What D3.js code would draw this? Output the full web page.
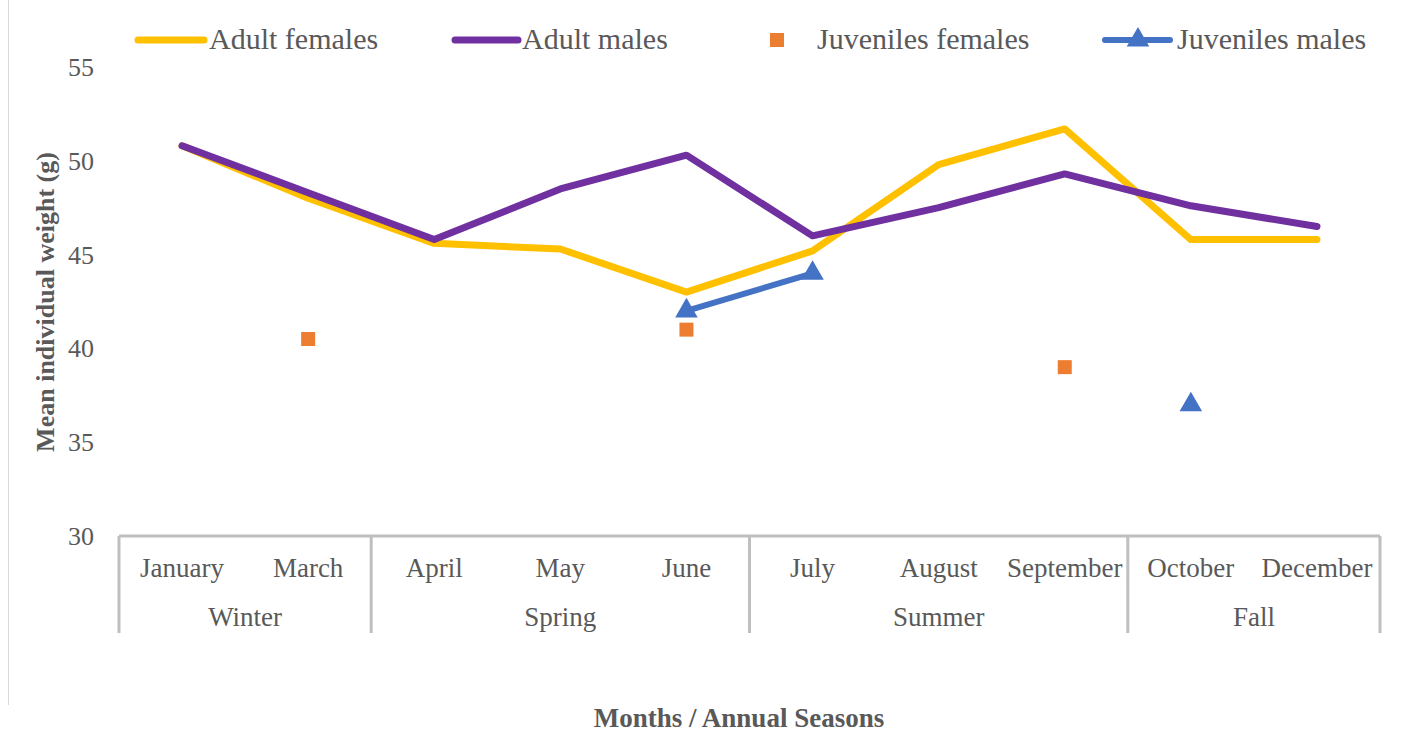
<!DOCTYPE html>
<html><head><meta charset="utf-8">
<script src="https://cdn.jsdelivr.net/npm/d3@7"></script>
<style>body{margin:0;background:#fff}svg{display:block}</style>
</head><body>
<svg id="c" width="1416" height="734"></svg>
<script>
const months = ["January","March","April","May","June","July","August","September","October","December"];
const seasons = [
  {name:"Winter", months:["January","March"]},
  {name:"Spring", months:["April","May","June"]},
  {name:"Summer", months:["July","August","September"]},
  {name:"Fall", months:["October","December"]}
];
const adultFemales = [50.8, 48.0, 45.6, 45.3, 43.0, 45.2, 49.8, 51.7, 45.8, 45.8];
const adultMales   = [50.8, 48.3, 45.8, 48.5, 50.3, 46.0, 47.5, 49.3, 47.6, 46.5];
const juvFemales   = [null, 40.5, null, null, 41.0, null, null, 39.0, null, null];
const juvMales     = [null, null, null, null, 42.0, 44.0, null, null, 37.0, null];
const yTicks = [30, 35, 40, 45, 50, 55];

const C = {af:"#FFC000", am:"#7030A0", jf:"#ED7D31", jm:"#4472C4", txt:"#595959", ax:"#BFBFBF"};
const FONT = "'Liberation Serif','Times New Roman',serif";
const svg = d3.select("#c");
svg.style("font-family", FONT);

const x = d3.scaleBand().domain(months).range([119, 1380]).paddingInner(0).paddingOuter(0);
const cx = m => x(m) + x.bandwidth()/2;
const y = d3.scaleLinear().domain([30, 55]).range([536, 67]);

// faint left border
svg.append("line").attr("x1",8.5).attr("x2",8.5).attr("y1",0).attr("y2",705)
  .attr("stroke","#d9d9d9").attr("stroke-width",1);

// y tick labels
const yAxis = d3.axisLeft(y).tickValues(yTicks).tickSize(0).tickPadding(0);
const gy = svg.append("g").attr("transform","translate(94,0)").call(yAxis);
gy.select(".domain").remove();
gy.selectAll("text").attr("font-family",FONT).attr("font-size",26).attr("fill",C.txt).attr("dy","0.33em");

// x axis multi-level
const gx = svg.append("g");
gx.append("line").attr("x1",119).attr("x2",1380).attr("y1",536).attr("y2",536)
  .attr("stroke",C.ax).attr("stroke-width",3);
const bounds = [x(seasons[0].months[0])];
seasons.forEach(s => bounds.push(x(s.months[s.months.length-1]) + x.bandwidth()));
bounds.forEach(b => gx.append("line").attr("x1",b).attr("x2",b).attr("y1",536).attr("y2",633)
  .attr("stroke",C.ax).attr("stroke-width",3));
gx.selectAll("text.m").data(months).join("text").attr("class","m")
  .attr("x", d => cx(d)).attr("y", 577).attr("text-anchor","middle")
  .attr("font-size",27).attr("fill",C.txt).text(d => d);
gx.selectAll("text.s").data(seasons).join("text").attr("class","s")
  .attr("x", d => (x(d.months[0]) + x(d.months[d.months.length-1]) + x.bandwidth())/2)
  .attr("y", 626).attr("text-anchor","middle")
  .attr("font-size",27).attr("fill",C.txt).text(d => d.name);

// axis titles
svg.append("text").attr("transform","translate(54,302) rotate(-90)").attr("text-anchor","middle")
  .attr("font-size",26).attr("font-weight","bold").attr("fill",C.txt).text("Mean individual weight (g)");
svg.append("text").attr("x",739).attr("y",727).attr("text-anchor","middle")
  .attr("font-size",27).attr("font-weight","bold").attr("fill",C.txt).text("Months / Annual Seasons");

// lines
const line = d3.line().defined(d => d.v != null).x(d => cx(d.m)).y(d => y(d.v));
const toPts = arr => months.map((m,i) => ({m, v: arr[i]}));
svg.append("path").datum(toPts(adultFemales)).attr("d", line).attr("fill","none")
  .attr("stroke",C.af).attr("stroke-width",7).attr("stroke-linecap","round").attr("stroke-linejoin","round");
svg.append("path").datum(toPts(adultMales)).attr("d", line).attr("fill","none")
  .attr("stroke",C.am).attr("stroke-width",7).attr("stroke-linecap","round").attr("stroke-linejoin","round");
svg.append("path").datum(toPts(juvMales)).attr("d", line).attr("fill","none")
  .attr("stroke",C.jm).attr("stroke-width",6).attr("stroke-linecap","round").attr("stroke-linejoin","round");

// markers
const sq = d3.symbol().type(d3.symbolSquare).size(196);
const tri = d3.symbol().type(d3.symbolTriangle).size(220);
svg.selectAll("path.jf").data(toPts(juvFemales).filter(d => d.v != null)).join("path").attr("class","jf")
  .attr("d", sq).attr("transform", d => `translate(${cx(d.m)},${y(d.v)})`).attr("fill",C.jf);
svg.selectAll("path.jm").data(toPts(juvMales).filter(d => d.v != null)).join("path").attr("class","jm")
  .attr("d", tri).attr("transform", d => `translate(${cx(d.m)},${y(d.v)})`).attr("fill",C.jm);

// legend
const lg = svg.append("g");
const ly = 40, tb = 49, fs = 30;
lg.append("line").attr("x1",138).attr("x2",204).attr("y1",ly).attr("y2",ly).attr("stroke",C.af).attr("stroke-width",7).attr("stroke-linecap","round");
lg.append("text").attr("x",209).attr("y",tb).attr("font-size",fs).attr("fill",C.txt).text("Adult females");
lg.append("line").attr("x1",455).attr("x2",518).attr("y1",ly).attr("y2",ly).attr("stroke",C.am).attr("stroke-width",7).attr("stroke-linecap","round");
lg.append("text").attr("x",522).attr("y",tb).attr("font-size",fs).attr("fill",C.txt).text("Adult males");
lg.append("path").attr("d",sq).attr("transform",`translate(777,${ly})`).attr("fill",C.jf);
lg.append("text").attr("x",817).attr("y",tb).attr("font-size",fs).attr("fill",C.txt).text("Juveniles females");
lg.append("line").attr("x1",1105).attr("x2",1170).attr("y1",ly).attr("y2",ly).attr("stroke",C.jm).attr("stroke-width",6).attr("stroke-linecap","round");
lg.append("path").attr("d",tri).attr("transform",`translate(1138,${ly})`).attr("fill",C.jm);
lg.append("text").attr("x",1177).attr("y",tb).attr("font-size",fs).attr("fill",C.txt).text("Juveniles males");
</script>
</body></html>
